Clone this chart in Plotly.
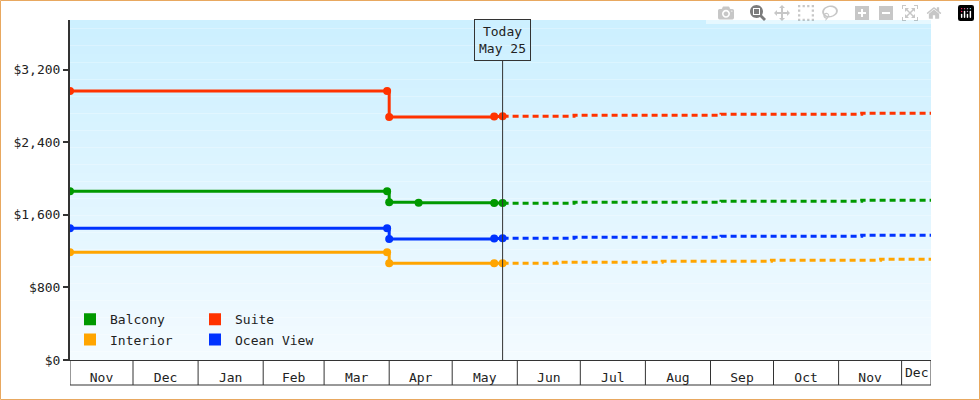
import plotly.graph_objects as go

# Parameters
series = ["Balcony", "Suite", "Interior", "Ocean View"]
colors = {"Balcony": "#009900", "Suite": "#ff3300", "Interior": "#ffa500", "Ocean View": "#0033ff"}

# historical fares (solid)
hist_dates = {
    "Balcony": ["2023-11-01", "2024-03-31", "2024-04-01", "2024-04-15", "2024-05-21", "2024-05-25"],
    "Suite": ["2023-11-01", "2024-03-31", "2024-04-01", "2024-05-21", "2024-05-25"],
    "Interior": ["2023-11-01", "2024-03-31", "2024-04-01", "2024-05-21", "2024-05-25"],
    "Ocean View": ["2023-11-01", "2024-03-31", "2024-04-01", "2024-05-21", "2024-05-25"],
}
hist_values = {
    "Balcony": [1861, 1861, 1740, 1735, 1732, 1732],
    "Suite": [2968, 2968, 2681, 2685, 2689],
    "Interior": [1188, 1188, 1067, 1067, 1067],
    "Ocean View": [1453, 1453, 1335, 1340, 1343],
}

# forecast fares (dashed)
fc_dates = {
    "Balcony": ["2024-05-25", "2024-06-28", "2024-09-06", "2024-11-12", "2024-12-15"],
    "Suite": ["2024-05-25", "2024-06-28", "2024-09-06", "2024-11-12", "2024-12-15"],
    "Interior": ["2024-05-25", "2024-06-20", "2024-08-09", "2024-09-30", "2024-11-21", "2024-12-15"],
    "Ocean View": ["2024-05-25", "2024-06-28", "2024-09-06", "2024-11-12", "2024-12-15"],
}
fc_values = {
    "Balcony": [1729, 1740, 1751, 1762, 1762],
    "Suite": [2689, 2700, 2711, 2722, 2722],
    "Interior": [1067, 1078, 1089, 1100, 1111, 1111],
    "Ocean View": [1343, 1354, 1365, 1376, 1376],
}

month_starts = ["2023-11-01", "2023-12-01", "2024-01-01", "2024-02-01", "2024-03-01", "2024-04-01",
                "2024-05-01", "2024-06-01", "2024-07-01", "2024-08-01", "2024-09-01", "2024-10-01",
                "2024-11-01", "2024-12-01", "2024-12-15"]
today = "2024-05-25"

fig = go.Figure()

for name in series:
    c = colors[name]
    fig.add_trace(go.Scatter(x=hist_dates[name], y=hist_values[name], mode="lines+markers",
                             line=dict(color=c, width=3, shape="hv"), marker=dict(size=8, color=c),
                             showlegend=False, hoverinfo="skip"))
    fig.add_trace(go.Scatter(x=fc_dates[name], y=fc_values[name], mode="lines",
                             line=dict(color=c, width=3, shape="hv", dash="6px,4px"),
                             showlegend=False, hoverinfo="skip"))

# legend entries as squares
for i, name in enumerate(series):
    fig.add_trace(go.Scatter(x=[None], y=[None], mode="markers", name=name,
                             marker=dict(symbol="square", size=12, color=colors[name]),
                             legend="legend" if i < 2 else "legend2"))

# gradient background
n = 40
shapes = []
for i in range(n):
    t = i / (n - 1)
    r = int(0xcd + (0xf3 - 0xcd) * t)
    g = int(0xf0 + (0xfb - 0xf0) * t)
    shapes.append(dict(type="rect", xref="paper", yref="paper", x0=0, x1=1,
                       y0=1 - (i + 1) / n, y1=1 - i / n, fillcolor=f"rgb({r},{g},255)",
                       line_width=0, layer="below"))

# x band separators
for d in month_starts:
    shapes.append(dict(type="line", xref="x", yref="paper", x0=d, x1=d, y0=-25 / 340, y1=0,
                       line=dict(color="#333", width=1)))
shapes.append(dict(type="line", xref="paper", yref="paper", x0=0, x1=1, y0=-25 / 340, y1=-25 / 340,
                   line=dict(color="#333", width=1)))
# today line
shapes.append(dict(type="line", xref="x", yref="paper", x0=today, x1=today, y0=0, y1=0.88,
                   line=dict(color="#333", width=1)))
# outer border
shapes.append(dict(type="rect", xref="paper", yref="paper", x0=-69.5 / 861, x1=1 + 48.5 / 861,
                   y0=-39.5 / 340, y1=1 + 19.5 / 340, line=dict(color="#e8a860", width=1)))

fig.update_layout(
    width=980, height=400,
    margin=dict(l=70, r=49, t=20, b=40),
    paper_bgcolor="white", plot_bgcolor="rgba(0,0,0,0)",
    font=dict(family="DejaVu Sans Mono", size=13, color="#222"),
    shapes=shapes,
    legend=dict(orientation="h", x=0.0, y=0.12, xanchor="left", yanchor="middle",
                bgcolor="rgba(0,0,0,0)", entrywidth=80, itemwidth=30, font=dict(size=13)),
    legend2=dict(orientation="h", x=0.0, y=0.06, xanchor="left", yanchor="middle",
                 bgcolor="rgba(0,0,0,0)", entrywidth=80, itemwidth=30, font=dict(size=13)),
    annotations=[
        dict(x=today, y=0.88, xref="x", yref="paper", yanchor="bottom",
             text="Today<br>May 25", showarrow=False, bordercolor="#333",
             borderwidth=1, borderpad=4, bgcolor="rgba(0,0,0,0)", font=dict(size=13)),
        dict(x="2024-12-08", y=-12 / 340, xref="x", yref="paper", yanchor="middle",
             text="Dec", showarrow=False, font=dict(size=13)),
    ],
)
fig.update_xaxes(type="date", range=["2023-11-01", "2024-12-15"], dtick="M1", tick0="2023-11-01",
                 tickformat="%b", ticklabelmode="period", ticks="", showgrid=False,
                 showline=True, linecolor="#333", linewidth=1, ticklabelstandoff=5)
fig.update_yaxes(range=[0, 3750], tickvals=[0, 800, 1600, 2400, 3200], tickformat="$,",
                 ticks="outside", ticklen=5, tickcolor="#333", tickwidth=2,
                 showgrid=False, zeroline=False, showline=True, linecolor="#333", linewidth=2)

fig.write_html("out.html", post_script="document.body.style.margin='0';")
